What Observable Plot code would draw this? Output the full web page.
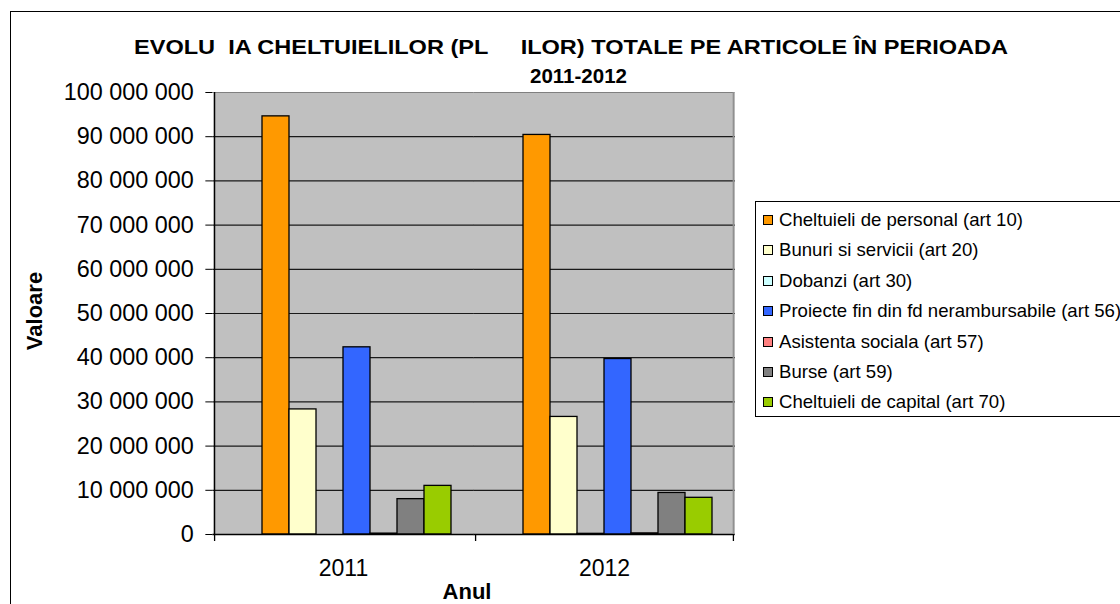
<!DOCTYPE html>
<html><head><meta charset="utf-8">
<script src="https://cdn.jsdelivr.net/npm/d3@7"></script>
<script src="https://cdn.jsdelivr.net/npm/@observablehq/plot@0.6"></script>
<style>
html,body{margin:0;padding:0;width:1120px;height:604px;overflow:hidden;background:#fff;font-family:"Liberation Sans",Arial,sans-serif;color:#000;}
#border{position:absolute;left:10px;top:11px;width:1300px;height:800px;border:1px solid #000;box-sizing:border-box;}
#plot{position:absolute;left:0;top:0;}
.title{position:absolute;font-weight:bold;font-size:21px;white-space:pre;line-height:1;transform-origin:0 50%;}
#ylab{position:absolute;left:35px;top:311px;transform:translate(-50%,-50%) rotate(-90deg);font-weight:bold;font-size:22px;white-space:nowrap;}
#xlab{position:absolute;left:467px;top:592px;transform:translate(-50%,-50%);font-weight:bold;font-size:22px;}
#legend{position:absolute;left:755px;top:201px;width:420px;height:216px;border:1px solid #000;box-sizing:border-box;background:#fff;}
.item{position:absolute;left:7px;height:20px;display:flex;align-items:center;font-size:18.6px;white-space:nowrap;}
.sw{width:10px;height:10px;border:1px solid #000;margin-right:6px;box-sizing:border-box;}
</style></head>
<body>
<div id="border"></div>
<div id="plot"></div>
<div class="title" id="t1" style="top:36px">EVOLU  IA CHELTUIELILOR (PL     ILOR) TOTALE PE ARTICOLE ÎN PERIOADA</div>
<div class="title" id="t2" style="top:65px">2011-2012</div>
<div id="ylab">Valoare</div>
<div id="xlab">Anul</div>
<div id="legend"></div>
<script>
const years = ["2011", "2012"];
const series = [
  "Cheltuieli de personal (art 10)",
  "Bunuri si servicii (art 20)",
  "Dobanzi (art 30)",
  "Proiecte fin din fd nerambursabile (art 56)",
  "Asistenta sociala (art 57)",
  "Burse (art 59)",
  "Cheltuieli de capital (art 70)"
];
const colors = ["#FF9900", "#FFFFCC", "#CCFFFF", "#3366FF", "#FF8080", "#808080", "#99CC00"];
const values2011 = [94600000, 28300000, 0, 42350000, 200000, 8000000, 11000000];
const values2012 = [90400000, 26600000, 150000, 39700000, 250000, 9400000, 8300000];
const yTicks = [0, 10000000, 20000000, 30000000, 40000000, 50000000, 60000000, 70000000, 80000000, 90000000, 100000000];
const blank = " ";

const data = [];
series.forEach((s, i) => {
  data.push({year: years[0], series: s, value: values2011[i]});
  data.push({year: years[1], series: s, value: values2012[i]});
});

const W = 745, H = 604, mL = 212, mR = 10, mT = 92, mB = 70;
const pIn = 1.5 / 9.5, pOut = 0.75 / 9.5;
const step = (W - mL - mR) / 2;
const ext = step * pOut;
const bw = step * (1 - pIn) / (series.length + 1);
const fmt = d => d3.format(",")(d).replace(/,/g, " ");

const chart = Plot.plot({
  width: W, height: H,
  marginLeft: mL, marginRight: mR, marginTop: mT, marginBottom: mB,
  style: {fontFamily: "Liberation Sans, Arial, sans-serif", fontSize: "23px", background: "transparent", color: "#000"},
  fx: {domain: years, paddingInner: pIn, paddingOuter: pOut, axis: "bottom", tickSize: 0, tickPadding: 25, label: null},
  x: {domain: [blank, ...series], padding: 0, axis: null},
  y: {domain: [0, 100000000], axis: null},
  color: {domain: series, range: colors},
  marks: [
    Plot.frame({fill: "#C0C0C0", insetLeft: -ext, insetRight: -ext, shapeRendering: "crispEdges"}),
    Plot.ruleY(yTicks.slice(1, -1), {stroke: "#1a1a1a", strokeWidth: 1.2, insetLeft: -ext, insetRight: -ext}),
    Plot.ruleY([yTicks[yTicks.length - 1]], {stroke: "#808080", strokeWidth: 1.2, insetLeft: -ext, insetRight: -ext}),
    Plot.barY(data, {fx: "year", x: "series", y: "value", fill: "series", stroke: "#000", strokeWidth: 1.3}),
    Plot.ruleY([0], {stroke: "#000", strokeWidth: 1.3, insetLeft: -ext, insetRight: -ext}),
    Plot.ruleX([years[0]], {fx: d => d, x: () => blank, dx: -(bw / 2 + ext), insetBottom: -7, stroke: "#000", strokeWidth: 1.3}),
    Plot.ruleX([years[1]], {fx: d => d, x: () => blank, dx: -(bw / 2 + ext), insetTop: H - mT - mB, insetBottom: -7, stroke: "#000", strokeWidth: 1.3}),
    Plot.ruleX([years[1]], {fx: d => d, x: () => series[series.length - 1], dx: bw / 2 + ext, stroke: "#909090", strokeWidth: 1.5}),
    Plot.ruleX([years[1]], {fx: d => d, x: () => series[series.length - 1], dx: bw / 2 + ext, insetTop: H - mT - mB, insetBottom: -7, stroke: "#000", strokeWidth: 1.3}),
    Plot.axisY(yTicks, {anchor: "left", tickFormat: fmt, tickSize: 7, tickPadding: 12, dx: -ext, fontSize: 23.4, label: null})
  ]
});
document.getElementById("plot").appendChild(chart);

// fit title lines to the reference's widths, centred
function fit(id, left, width) {
  const el = document.getElementById(id);
  const w = el.getBoundingClientRect().width;
  el.style.left = left + "px";
  el.style.transform = "scaleX(" + (width / w) + ")";
}
fit("t1", 134, 874);
fit("t2", 530, 97);

const legend = d3.select("#legend");
series.forEach((s, i) => {
  const it = legend.append("div").attr("class", "item").style("top", (8 + i * 30.4) + "px");
  it.append("div").attr("class", "sw").style("background", colors[i]);
  it.append("span").text(s);
});
</script>
</body></html>
